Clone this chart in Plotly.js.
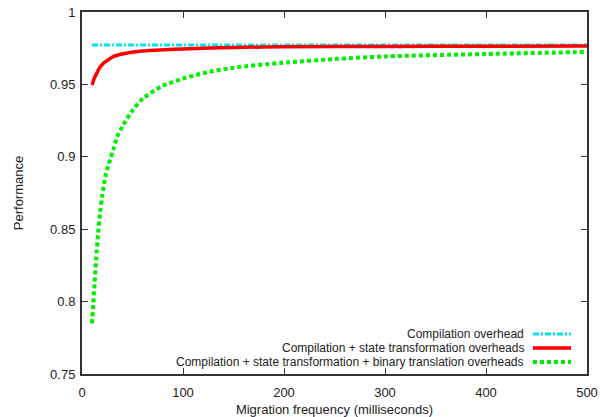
<!DOCTYPE html>
<html>
<head>
<meta charset="utf-8">
<script src="https://cdn.plot.ly/plotly-3.0.1.min.js"></script>
<style>html,body{margin:0;padding:0;background:#fff;}#chart{width:604px;height:417px;}</style>
</head>
<body>
<div id="chart"></div>
<script>
const seriesNames = [
  "Compilation overhead",
  "Compilation + state transformation overheads",
  "Compilation + state transformation + binary translation overheads"
];
const cyanX = [10, 500];
const cyanY = [0.9772, 0.9772];
const redX = [10, 12, 14.5, 17, 21, 25, 31, 40, 47.5, 60, 77, 100, 150, 200, 300, 400, 500];
const redY = [0.9496, 0.954, 0.9576, 0.961, 0.9645, 0.9665, 0.9692, 0.971, 0.972, 0.973, 0.9738, 0.9745, 0.9755, 0.976, 0.9762, 0.9764, 0.9765];
const greenX = [10, 11.2, 12.5, 14, 16, 18, 20, 23, 26, 31, 35, 40, 50, 60, 80, 100, 125, 150, 200, 250, 300, 400, 500];
const greenY = [0.785, 0.799, 0.813, 0.829, 0.848, 0.862, 0.873, 0.886, 0.894, 0.905, 0.914, 0.921, 0.932, 0.940, 0.949, 0.954, 0.9585, 0.9615, 0.965, 0.9675, 0.9693, 0.971, 0.9724];
const xTicks = [0, 100, 200, 300, 400, 500];
const yTicks = [0.75, 0.8, 0.85, 0.9, 0.95, 1];
const yTickText = ["0.75", "0.8", "0.85", "0.9", "0.95", "1"];

const colors = ["#00e5ee", "#ff0000", "#00ee00"];
const dashes = ["6px,2px,2px,2px", "solid", "4px,3px"];
const widths = [3, 3.5, 4];

const traces = [
  {x: cyanX, y: cyanY, mode: "lines", name: seriesNames[0], line: {color: colors[0], width: widths[0], dash: dashes[0]}},
  {x: redX, y: redY, mode: "lines", name: seriesNames[1], line: {color: colors[1], width: widths[1], dash: dashes[1], shape: "spline", smoothing: 0.8}},
  {x: greenX, y: greenY, mode: "lines", name: seriesNames[2], line: {color: colors[2], width: widths[2], dash: dashes[2], shape: "spline", smoothing: 0.8}}
];

const font = {family: "Liberation Sans, Arial, sans-serif", size: 13, color: "#222"};
const legFont = {family: "Liberation Sans, Arial, sans-serif", size: 12, color: "#222"};
const annotations = [];
const shapes = [];
const legY = [334, 348, 362];
const H = 417, W = 604, mL = 82, mR = 17, mT = 12, mB = 43;
const pw = W - mL - mR, ph = H - mT - mB;
for (let i = 0; i < 3; i++) {
  const yp = 1 - (legY[i] - mT) / ph;
  annotations.push({xref: "paper", yref: "paper", x: (525 - mL) / pw, y: yp, xanchor: "right", yanchor: "middle",
    text: seriesNames[i], showarrow: false, font: legFont, borderpad: 0});
  shapes.push({type: "line", xref: "paper", yref: "paper", x0: (533 - mL) / pw, x1: (571 - mL) / pw, y0: yp, y1: yp,
    line: {color: colors[i], width: widths[i], dash: dashes[i]}});
}

const axisCommon = {showgrid: false, zeroline: false, showline: true, linecolor: "#333", linewidth: 2,
  mirror: "ticks", ticks: "inside", ticklen: 6, tickwidth: 1, tickcolor: "#333", tickfont: font};

const layout = {
  width: W, height: H,
  margin: {l: mL, r: mR, t: mT, b: mB},
  paper_bgcolor: "#fff", plot_bgcolor: "#fff",
  showlegend: false,
  font: font,
  xaxis: Object.assign({}, axisCommon, {range: [0, 500], tickvals: xTicks, ticktext: xTicks.map(String),
    ticklabelstandoff: 5,
    title: {text: "Migration frequency (milliseconds)", font: font, standoff: 8}}),
  yaxis: Object.assign({}, axisCommon, {range: [0.75, 1], tickvals: yTicks, ticktext: yTickText,
    ticklabelstandoff: 2,
    title: {text: "Performance", font: font, standoff: 24}}),
  annotations: annotations,
  shapes: shapes
};

Plotly.newPlot("chart", traces, layout, {displayModeBar: false, staticPlot: true});
</script>
</body>
</html>
